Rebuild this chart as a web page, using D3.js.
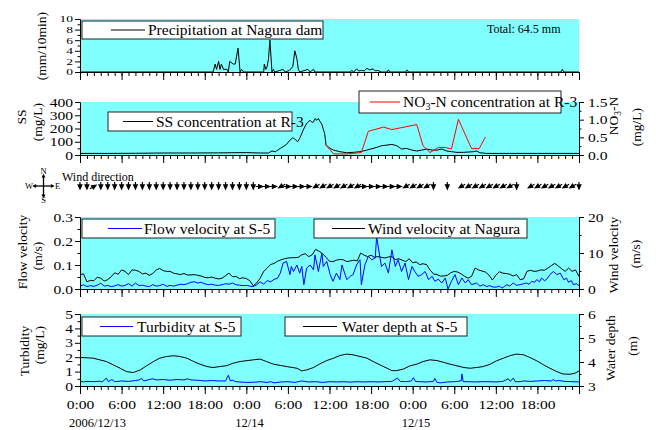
<!DOCTYPE html>
<html>
<head>
<meta charset="utf-8">
<script src="https://cdn.jsdelivr.net/npm/d3@7"></script>
<style>
  body { margin: 0; background: #fff; }
  svg { display: block; font-family: "Liberation Serif", "Times New Roman", serif; }
</style>
</head>
<body>
<svg id="chart" width="656" height="430"></svg>
<script>
// ---- data (time in hours from 2006/12/13 0:00) ----
const precip = [[0,0],[19.2,0],[19.5,1.5],[19.7,0.5],[20.0,2],[20.2,0.5],[20.4,1.5],[20.7,0.5],[21.2,0.5],[21.4,0],
  [21.6,2],[22.1,1.5],[22.4,1.5],[22.6,3],[22.8,4.5],[23.1,0],[23.3,0.5],[23.6,0],[26.5,0],[26.6,1.5],[26.8,0.5],
  [27.0,1],[27.2,2.5],[27.4,6],[27.7,0],[27.9,0.5],[28.1,0],[29.3,0.5],[29.6,0],[30.2,0.3],[30.7,1],[31.0,4],
  [31.3,2.5],[31.5,0.5],[31.7,0],[32.9,0.5],[33.2,0],[33.7,0.5],[33.9,0],[39.0,0],[39.2,0.3],[39.5,0],[39.9,0.6],
  [40.2,0.2],[40.6,0.3],[41.0,0.2],[41.4,0.7],[41.8,0.4],[42.3,0.6],[42.6,0.2],[43.0,0.3],[43.5,0],[44.3,0],
  [44.5,0.4],[44.7,0],[47.0,0],[47.2,0.4],[47.4,0],[69.4,0],[69.6,0.5],[69.8,0],[72,0]];
const precipTotal = "Total: 64.5 mm";

const ssConc = [[0,12],[4,12],[8,13],[12,15],[16,15],[20,16],[24,18],[26,15],[27.2,15],[27.7,30],[28.2,25],[28.4,32],
  [28.9,50],[29.3,62],[29.8,80],[30.3,112],[30.7,130],[31.0,120],[31.4,100],[31.7,125],[32.2,188],[32.7,238],
  [33.2,262],[33.5,245],[33.7,250],[33.9,275],[34.2,262],[34.4,275],[34.6,255],[34.9,232],[35.1,195],[35.3,162],
  [35.5,75],[35.8,62],[36.1,50],[36.6,37],[37.5,25],[38.5,17],[39.4,20],[40.4,25],[41.4,37],[42.3,50],[43.1,62],
  [43.5,70],[44.3,75],[45.0,80],[45.7,70],[46.4,45],[47.1,50],[47.9,37],[48.6,30],[49.3,37],[50.0,45],[50.8,37],
  [51.5,37],[52.2,45],[52.9,30],[53.6,25],[54.4,20],[55.3,20],[56.8,25],[57.2,30],[57.7,17],[58.7,12],[62,12],
  [66,12],[72,12]];

const no3Conc = [[35.4,0.3],[36.6,0.03],[38.5,0.03],[40.6,0.07],[41.6,0.67],[43.8,0.79],[45.0,0.72],[48.6,0.86],
  [49.5,0.26],[50.5,0.07],[51.7,0.21],[52.7,0.21],[53.6,0.17],[54.6,1.01],[56.5,0.18],[57.6,0.18],[58.5,0.51]];

// wind direction, hourly, bearing the vane points to (deg, 0 = north); null = no arrow
const windDir = [180,180,60,180,180,180,180,180,180,180,
  180,180,180,180,180,180,180,180,180,180,
  180,180,180,180,180,180,90,90,90,240,
  90,90,90,90,240,240,240,240,240,240,
  240,90,90,90,90,90,90,240,240,240,
  240,180,null,180,null,240,240,240,240,240,
  240,240,240,180,null,240,240,240,240,240,
  240,240,180];

const flowVel = [[0,0.012],[0.5,0.018],[1,0.010],[1.5,0.014],[2,0.011],[2.5,0.016],[3,0.024],[3.5,0.012],[4,0.015],
  [4.5,0.010],[5,0.013],[5.5,0.018],[6,0.012],[6.5,0.015],[7,0.022],[7.5,0.012],[8,0.025],[8.5,0.014],[9,0.016],
  [9.5,0.012],[10,0.010],[10.5,0.018],[11,0.012],[11.5,0.014],[12,0.020],[12.5,0.011],[13,0.015],[13.5,0.012],
  [14,0.016],[14.5,0.020],[15,0.018],[15.5,0.022],[16,0.028],[16.5,0.030],[17,0.025],[17.5,0.028],[18,0.022],
  [18.5,0.018],[19,0.020],[19.5,0.016],[20,0.015],[20.5,0.018],[21,0.022],[21.5,0.020],[22,0.025],[22.5,0.018],
  [23,0.016],[23.5,0.014],[24,0.015],[24.5,0.012],[25,0.010],[25.5,0.018],[26,0.030],[26.5,0.020],[27,0.035],
  [27.5,0.030],[28,0.040],[28.5,0.045],[28.9,0.066],[29.3,0.108],[29.8,0.115],[30.3,0.06],[30.5,0.094],[30.8,0.073],
  [31.3,0.10],[31.7,0.066],[32.0,0.094],[32.3,0.018],[32.7,0.087],[33.2,0.10],[33.7,0.08],[33.9,0.142],[34.4,0.073],
  [34.9,0.149],[35.1,0.094],[35.6,0.115],[36.1,0.06],[36.5,0.032],[37.0,0.066],[37.5,0.039],[37.8,0.10],[38.5,0.039],
  [39.0,0.053],[39.4,0.06],[39.9,0.10],[40.4,0.122],[40.6,0.018],[41.1,0.10],[41.6,0.136],[42.1,0.122],[42.6,0.129],
  [42.8,0.219],[43.1,0.163],[43.5,0.094],[44.0,0.108],[44.5,0.066],[45.0,0.163],[45.5,0.094],[45.9,0.122],
  [46.4,0.073],[46.9,0.108],[47.4,0.039],[47.9,0.094],[48.3,0.073],[48.8,0.053],[49.3,0.06],[49.8,0.073],
  [50.3,0.039],[50.8,0.053],[51.2,0.032],[51.7,0.041],[52.2,0.025],[52.7,0.046],[53.1,0.0],[53.6,0.032],[54.1,0.06],
  [54.6,0.018],[55.1,0.046],[55.6,0.025],[56.0,0.039],[56.5,0.018],[57.2,0.025],[57.7,0.012],[58.2,0.018],
  [58.7,0.010],[59.1,0.014],[59.6,0.008],[60.1,0.008],[60.5,0.012],[60.9,0.004],[61.3,0.012],[61.6,0.018],
  [62.0,0.012],[62.5,0.025],[63.0,0.015],[63.5,0.018],[64.0,0.022],[64.4,0.025],[64.8,0.020],[65.2,0.032],
  [65.6,0.028],[65.9,0.039],[66.3,0.030],[66.6,0.046],[67.0,0.035],[67.3,0.039],[67.8,0.06],[68.3,0.073],
  [68.8,0.06],[69.3,0.066],[69.8,0.039],[70.2,0.045],[70.5,0.028],[70.9,0.035],[71.2,0.018],[71.6,0.022],[72,0.014]];

// wind velocity at Nagura, every half hour from 0:00
const windVelStep = 0.5;
const windVel = [4.0,4.2,2.0,2.4,2.3,3.3,3.0,2.2,2.6,3.4,
  4.5,4.1,5.3,4.9,4.0,5.3,5.2,4.9,4.2,4.4,
  3.8,4.3,5.3,5.7,5.1,4.9,4.9,4.4,4.2,4.0,
  4.3,3.9,3.9,4.0,3.8,3.6,3.2,3.1,3.3,3.0,
  2.8,3.0,3.7,4.4,3.4,3.5,2.9,3.1,2.9,2.3,
  0.9,1.7,3.0,4.9,5.8,6.8,7.1,7.7,8.1,8.4,
  8.6,8.7,8.7,8.8,9.5,9.8,9.0,9.5,11.0,10.5,
  9.8,8.8,7.7,7.6,8.0,8.2,8.1,7.6,7.8,8.0,
  7.8,10.0,9.4,9.0,9.4,8.8,9.0,8.8,8.6,8.9,
  9.0,8.2,8.4,8.0,7.6,8.4,7.3,7.5,6.8,7.0,
  6.8,5.3,4.2,4.0,3.6,3.6,3.8,4.5,4.9,4.7,
  4.2,3.5,3.0,3.5,5.8,5.3,5.0,4.7,3.9,2.5,
  3.8,4.8,4.4,4.3,4.1,3.6,4.0,2.6,2.8,4.9,
  5.2,4.9,5.0,5.3,5.2,5.8,6.5,7.1,6.4,5.6,
  4.9,5.8,4.9,5.3,3.5];

const turbidity = [[0,0.35],[0.5,0.28],[1,0.32],[2,0.30],[2.8,0.33],[3.2,0.28],[3.8,0.55],[4.1,0.30],[4.6,0.45],
  [5,0.30],[6,0.35],[7,0.32],[8,0.38],[8.5,0.42],[8.9,0.52],[9.2,0.35],[10,0.45],[10.5,0.5],[11,0.42],[12,0.45],
  [13,0.40],[14,0.45],[15,0.42],[15.5,0.5],[16,0.42],[17,0.40],[18,0.35],[19,0.38],[20,0.35],[21,0.35],[21.4,0.75],
  [21.7,0.35],[22,0.40],[22.5,0.30],[23,0.28],[24,0.25],[25,0.26],[26,0.30],[27,0.25],[27.5,0.30],[28,0.22],
  [29,0.28],[30,0.30],[31,0.25],[32,0.35],[33,0.28],[34,0.30],[35,0.25],[36,0.30],[37,0.28],[38,0.30],[39,0.27],
  [40,0.30],[41,0.28],[42,0.30],[43,0.28],[44,0.30],[45,0.32],[45.8,0.55],[46.2,0.32],[47,0.30],[47.8,0.35],
  [48.1,0.58],[48.4,0.32],[49,0.30],[50,0.28],[51,0.32],[51.2,0.53],[51.5,0.25],[52,0.22],[53,0.28],[54,0.30],
  [55.0,0.35],[55.1,0.84],[55.3,0.30],[56,0.30],[57,0.28],[58,0.30],[59,0.30],[60,0.28],[61,0.32],[61.8,0.50],
  [62.1,0.32],[62.5,0.55],[62.8,0.30],[63.5,0.30],[64,0.35],[65,0.32],[66,0.35],[67,0.38],[68,0.35],[68.3,0.45],
  [68.6,0.35],[69,0.38],[70,0.32],[71,0.30],[72,0.28]];

const waterDepth = [[0,4.19],[1.9,4.16],[3.8,4.02],[5.8,3.74],[6.7,3.6],[7.7,3.56],[8.7,3.67],[9.6,3.84],[10.6,4.02],
  [11.5,4.16],[12.5,4.23],[13.5,4.26],[14.4,4.23],[15.4,4.16],[16.4,4.02],[17.3,3.91],[18.3,3.81],[19.2,3.77],
  [20.2,3.81],[21.2,3.85],[22.1,3.95],[23.1,4.02],[25.0,4.09],[26.0,4.12],[26.9,4.02],[27.9,3.91],[29.8,3.81],
  [31.3,3.74],[32.0,3.63],[32.7,3.67],[33.7,3.77],[34.6,3.92],[35.6,4.06],[36.6,4.16],[37.5,4.27],[38.5,4.33],
  [39.4,4.30],[40.4,4.23],[41.4,4.16],[42.3,4.02],[43.3,3.88],[44.3,3.74],[45.0,3.64],[45.7,3.64],[46.7,3.71],
  [47.6,3.84],[48.6,3.91],[49.5,4.02],[50.5,4.09],[51.5,4.06],[52.4,3.99],[53.4,3.91],[54.4,3.84],[55.4,3.77],
  [56.3,3.74],[57.2,3.77],[58.2,3.81],[59.2,3.91],[60.1,4.05],[61.1,4.16],[62.1,4.27],[63.0,4.33],[64.0,4.30],
  [64.9,4.19],[65.9,4.05],[66.9,3.88],[67.8,3.74],[68.8,3.60],[69.7,3.50],[70.7,3.49],[71.4,3.53],[72.0,3.63]];

const dateLabelHours = [0, 24, 48];
const dateLabelTexts = ["2006/12/13", "12/14", "12/15"];

// ---- layout ----
const svg = d3.select("#chart");
const CYAN = "#80ffff";
const SX = 1.2;          // reference text looks horizontally stretched

const x = d3.scaleLinear().domain([0, 72]).range([80, 579]);
const P1 = {top: 19, bottom: 72};
const P2 = {top: 102, bottom: 155};
const P3 = {top: 217, bottom: 289};
const P4 = {top: 314, bottom: 386};

function background(p) {
  svg.append("rect").attr("x", x(0)).attr("y", p.top)
    .attr("width", x(72) - x(0)).attr("height", p.bottom - p.top)
    .attr("fill", CYAN);
}

function tidy(g, side, fontSize, sx) {
  g.attr("font-family", null).attr("font-size", null);
  g.selectAll("path, line").attr("stroke", "#000").attr("stroke-width", 1);
  g.selectAll("text").attr("fill", "#000").style("font-size", fontSize + "px")
    .each(function() {
      const t = d3.select(this);
      if (side !== "bottom") t.attr("x", +t.attr("x") / sx);
      t.attr("transform", "scale(" + sx + ",1)");
    });
}

function yAxis(side, y, majors, minors, fmt, fontSize, sx) {
  fontSize = fontSize || 13;
  sx = sx || SX;
  const xPos = side === "left" ? x(0) : x(72);
  const make = side === "left" ? d3.axisLeft : d3.axisRight;
  const g1 = svg.append("g").attr("transform", "translate(" + xPos + ",0)")
    .call(make(y).tickValues(minors).tickSize(2.5).tickSizeOuter(0).tickFormat(""));
  tidy(g1, side, fontSize, sx);
  const g2 = svg.append("g").attr("transform", "translate(" + xPos + ",0)")
    .call(make(y).tickValues(majors).tickSize(5).tickSizeOuter(0)
      .tickPadding(side === "left" ? 2 : 4).tickFormat(fmt));
  tidy(g2, side, fontSize, sx);
}

function xAxis(p, withLabels) {
  const g1 = svg.append("g").attr("transform", "translate(0," + p.bottom + ")")
    .call(d3.axisBottom(x).tickValues(d3.range(0, 73, 1)).tickSize(4).tickSizeOuter(0).tickFormat(""));
  tidy(g1, "bottom", 13, SX);
  const g2 = svg.append("g").attr("transform", "translate(0," + p.bottom + ")")
    .call(d3.axisBottom(x).tickValues(d3.range(0, 73, 6)).tickSize(8).tickSizeOuter(0).tickPadding(6)
      .tickFormat(h => withLabels && h < 72 ? (h % 24) + ":00" : ""));
  tidy(g2, "bottom", 13, SX);
}

function series(data, y, color) {
  svg.append("path").datum(data)
    .attr("fill", "none").attr("stroke", color).attr("stroke-width", 1)
    .attr("stroke-linejoin", "round")
    .attr("d", d3.line().x(d => x(d[0])).y(d => y(d[1])));
}

function legend(box, lineX, textX, color, label) {
  svg.append("rect").attr("x", box[0]).attr("y", box[1])
    .attr("width", box[2] - box[0]).attr("height", box[3] - box[1])
    .attr("fill", "#fff").attr("stroke", "#222").attr("stroke-width", 1);
  const ym = (box[1] + box[3]) / 2;
  svg.append("line").attr("x1", lineX[0]).attr("x2", lineX[1]).attr("y1", ym).attr("y2", ym)
    .attr("stroke", color).attr("stroke-width", 1);
  return svg.append("text").attr("x", textX).attr("y", box[3] - 4)
    .style("font-size", "15.5px").attr("fill", "#000").text(label);
}

function vTitle(label, tx, ty) {
  return svg.append("text").attr("transform", "translate(" + tx + "," + ty + ") rotate(-90)")
    .attr("text-anchor", "middle").style("font-size", "13.5px").attr("fill", "#000").text(label);
}

// ---- panel 1: precipitation ----
const yPrec = d3.scaleLinear().domain([0, 10]).range([P1.bottom, P1.top]);
background(P1);
series(precip, yPrec, "#000");
legend([82, 21, 323, 39], [111, 145], 148, "#000", "Precipitation at Nagura dam");
svg.append("text").attr("x", 487).attr("y", 33).style("font-size", "12px").text(precipTotal);
xAxis(P1, false);
yAxis("left", yPrec, [0, 2, 4, 6, 8, 10], [1, 3, 5, 7, 9], d3.format("d"), 9, 1.5);
vTitle("(mm/10min)", 46, 46);

// ---- panel 2: SS and NO3-N ----
const ySS = d3.scaleLinear().domain([0, 400]).range([P2.bottom, P2.top]);
const yNO3 = d3.scaleLinear().domain([0, 1.5]).range([P2.bottom, P2.top]);
background(P2);
series(ssConc, ySS, "#000");
series(no3Conc, yNO3, "#ff0000");
legend([108, 112, 292, 131], [123, 153], 156, "#000", "SS concentration at R-3");
const no3Leg = legend([359, 91, 561, 113], [370, 400], 403, "#ff0000", "");
no3Leg.attr("y", 107);
no3Leg.append("tspan").text("NO");
no3Leg.append("tspan").attr("dy", 3).style("font-size", "10px").text("3");
no3Leg.append("tspan").attr("dy", -3).text("-N concentration at R-3");
xAxis(P2, false);
yAxis("left", ySS, [0, 100, 200, 300, 400], [50, 150, 250, 350], d3.format("d"));
yAxis("right", yNO3, [0, 0.5, 1.0, 1.5], [0.25, 0.75, 1.25], d3.format(".1f"));
vTitle("SS", 26, 117);
vTitle("(mg/L)", 42, 122);
const no3Title = vTitle("", 618, 116);
no3Title.append("tspan").text("NO");
no3Title.append("tspan").attr("dy", 3).style("font-size", "9.5px").text("3");
no3Title.append("tspan").attr("dy", -3).text("-N");
vTitle("(mg/L)", 641, 127);

// ---- wind direction row ----
const rowY = 186.5;
svg.append("text").attr("x", 62).attr("y", 181).style("font-size", "12px").text("Wind direction");
svg.append("g").selectAll("path")
  .data(windDir.map((b, i) => [i, b]).filter(d => d[1] !== null))
  .join("path")
  .attr("transform", d => "translate(" + x(d[0]) + "," + rowY + ") rotate(" + d[1] + ")")
  .attr("d", "M0,-4L2.8,2.2L-2.8,2.2Z M-0.6,2.2L0.6,2.2L0.6,4.6L-0.6,4.6Z")
  .attr("fill", "#000");

// compass
const cx = 43.5, cy = 186;
const comp = svg.append("g").attr("stroke", "#000").attr("stroke-width", 1.3);
comp.append("line").attr("x1", cx - 9).attr("x2", cx + 9).attr("y1", cy).attr("y2", cy);
comp.append("line").attr("x1", cx).attr("x2", cx).attr("y1", cy - 10).attr("y2", cy + 10);
const heads = svg.append("g").attr("fill", "#000");
[[0, -10], [0, 10], [-9, 0], [9, 0]].forEach(function(d, i) {
  const rot = [0, 180, 270, 90][i];
  heads.append("path").attr("transform", "translate(" + (cx + d[0]) + "," + (cy + d[1]) + ") rotate(" + rot + ")")
    .attr("d", "M0,-2.2L2,1.6L-2,1.6Z");
});
[["N", cx, cy - 12], ["S", cx, cy + 17], ["W", cx - 14.5, cy + 3], ["E", cx + 14, cy + 3]].forEach(function(d) {
  svg.append("text").attr("x", d[1]).attr("y", d[2]).attr("text-anchor", "middle")
    .style("font-size", "8.5px").text(d[0]);
});

// ---- panel 3: flow velocity and wind velocity ----
const yFlow = d3.scaleLinear().domain([0, 0.3]).range([P3.bottom, P3.top]);
const yWind = d3.scaleLinear().domain([0, 20]).range([P3.bottom, P3.top]);
background(P3);
series(windVel.map((v, i) => [i * windVelStep, v]), yWind, "#000");
series(flowVel, yFlow, "#0000ff");
legend([82, 219, 275, 238], [108, 142], 144, "#0000ff", "Flow velocity at S-5");
legend([314, 219, 527, 238], [332, 365], 368, "#000", "Wind velocity at Nagura");
xAxis(P3, false);
yAxis("left", yFlow, [0, 0.1, 0.2, 0.3], [0.05, 0.15, 0.25], d3.format(".1f"));
yAxis("right", yWind, [0, 10, 20], [5, 15], d3.format("d"));
vTitle("Flow velocity", 27, 252);
vTitle("(m/s)", 42, 256);
vTitle("Wind velocity", 618, 255);
vTitle("(m/s)", 640, 254);

// ---- panel 4: turbidity and water depth ----
const yTurb = d3.scaleLinear().domain([0, 5]).range([P4.bottom, P4.top]);
const yDepth = d3.scaleLinear().domain([3, 6]).range([P4.bottom, P4.top]);
background(P4);
series(waterDepth, yDepth, "#000");
series(turbidity, yTurb, "#0000ff");
legend([82, 317, 241, 336], [100, 133], 137, "#0000ff", "Turbidity at S-5");
legend([285, 317, 467, 336], [303, 337], 342, "#000", "Water depth at S-5");
xAxis(P4, true);
yAxis("left", yTurb, [0, 1, 2, 3, 4, 5], [0.5, 1.5, 2.5, 3.5, 4.5], d3.format("d"));
yAxis("right", yDepth, [3, 4, 5, 6], [3.5, 4.5, 5.5], d3.format("d"));
vTitle("Turbidity", 29, 351);
vTitle("(mg/L)", 44, 345);
vTitle("Water depth", 615, 348);
vTitle("(m)", 637, 346);

svg.append("g").selectAll("text")
  .data(dateLabelHours.map((h, i) => [h, dateLabelTexts[i]]))
  .join("text")
  .attr("x", d => x(d[0]) - 11).attr("y", 427)
  .style("font-size", "12.5px").attr("fill", "#000")
  .text(d => d[1]);
</script>
</body>
</html>
